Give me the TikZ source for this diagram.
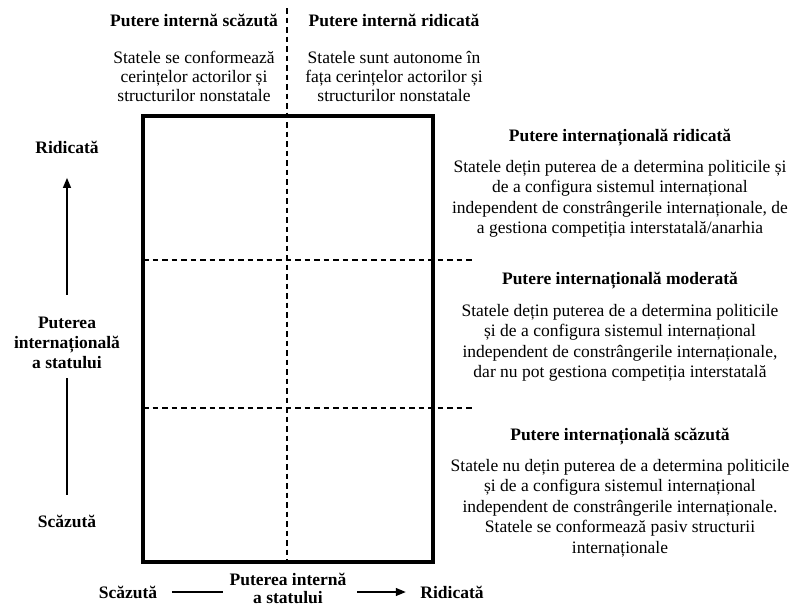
\documentclass[tikz,border=0pt]{standalone}
\usepackage{fontspec}
\setmainfont{Liberation Serif}
\usetikzlibrary{arrows.meta}
\tikzset{
  head/.style={font=\bfseries\fontsize{17.5}{20}\selectfont,align=center,inner sep=0pt},
  body/.style={font=\fontsize{17.5}{20.5}\selectfont,align=center,inner sep=0pt},
  grid/.style={line width=1.3pt,dash pattern=on 5.5pt off 4pt},
}
\begin{document}
\begin{tikzpicture}[x=1pt,y=-1pt,line width=1.3pt]
\useasboundingbox (0,0) rectangle (798,608);
%
\draw[line width=4pt](143,116) rectangle (433,562);
\draw[grid](287,8)--(287,562);
\foreach \y in {260,408}{\draw[grid](143,\y)--(472,\y);}
%
\node[head](hl) at (194,20){Putere internă scăzută};
\node[head](hh) at (394,20){Putere internă ridicată};
\node[body,font=\fontsize{17.5}{19}\selectfont](bl) at (194,76){Statele se conformează\\cerințelor actorilor și\\structurilor nonstatale};
\node[body,font=\fontsize{17.5}{19}\selectfont](bh) at (394,76){Statele sunt autonome în\\fața cerințelor actorilor și\\structurilor nonstatale};
%
\node[head](ih) at (620,138){Putere internațională ridicată};
\node[body](ihb) at (620,199){Statele dețin puterea de a determina politicile și\\de a configura sistemul internațional\\independent de constrângerile internaționale, de\\a gestiona competiția interstatală/anarhia};
\node[head](im) at (620,281){Putere internațională moderată};
\node[body](imb) at (620,343){Statele dețin puterea de a determina politicile\\și de a configura sistemul internațional\\independent de constrângerile internaționale,\\dar nu pot gestiona competiția interstatală};
\node[head](il) at (620,437){Putere internațională scăzută};
\node[body](ilb) at (620,508){Statele nu dețin puterea de a determina politicile\\și de a configura sistemul internațional\\independent de constrângerile internaționale.\\Statele se conformează pasiv structurii\\internaționale};
%
\node[head](yhi) at (67,147){Ridicată};
\node[head](yax) at (67,343){Puterea\\internațională\\a statului};
\node[head](ylo) at (67,521){Scăzută};
\draw[-{Triangle[length=10pt,width=8pt]},shorten <=22pt,shorten >=24pt](yax.north)--(yhi.south);
\draw[shorten <=9pt,shorten >=19pt](yax.south)--(ylo.north);
%
\node[head](xlo) at (128,592){Scăzută};
\node[head,font=\bfseries\fontsize{17.5}{18}\selectfont](xax) at (288,588){Puterea internă\\a statului};
\node[head](xhi) at (452,592){Ridicată};
\draw[shorten <=14pt,shorten >=6pt](xlo.east|-0,592)--(xax.west|-0,592);
\draw[-{Triangle[length=10pt,width=8pt]},shorten <=10pt,shorten >=14pt](xax.east|-0,592)--(xhi.west|-0,592);
\end{tikzpicture}
\end{document}
